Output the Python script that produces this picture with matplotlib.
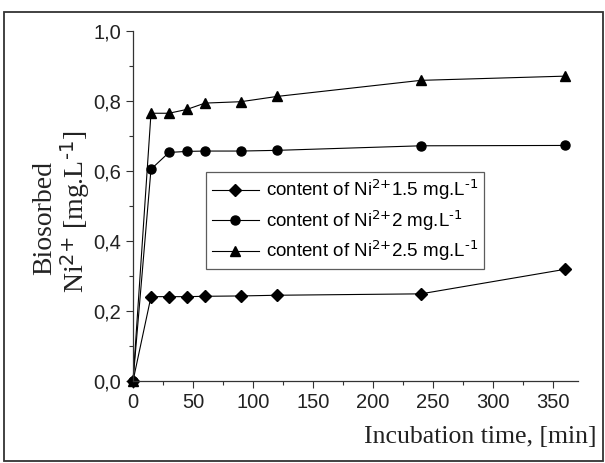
import numpy as np
import matplotlib
matplotlib.use('Agg')
from matplotlib import pyplot as plt
from matplotlib.patches import Rectangle
from matplotlib.ticker import MultipleLocator

plt.rcParams['font.family'] = 'Liberation Sans'
plt.rcParams['mathtext.default'] = 'regular'

# data
time_min = [0, 15, 30, 45, 60, 90, 120, 240, 360]
ni_15 = [0, 0.241, 0.241, 0.241, 0.242, 0.243, 0.245, 0.249, 0.319]
ni_20 = [0, 0.605, 0.653, 0.656, 0.657, 0.657, 0.659, 0.672, 0.673]
ni_25 = [0, 0.765, 0.765, 0.776, 0.794, 0.798, 0.813, 0.859, 0.871]
labels = [r'content of Ni$^{\text{2+}}$1.5 mg.L$^{\text{-1}}$',
          r'content of Ni$^{\text{2+}}$2 mg.L$^{\text{-1}}$',
          r'content of Ni$^{\text{2+}}$2.5 mg.L$^{\text{-1}}$']
xticks = [0, 50, 100, 150, 200, 250, 300, 350]
yticks = [0.0, 0.2, 0.4, 0.6, 0.8, 1.0]
ytick_labels = ['0,0', '0,2', '0,4', '0,6', '0,8', '1,0']

fig = plt.figure(figsize=(6.05, 4.63), dpi=100)
ax = fig.add_axes([133 / 605, 1 - 381 / 463, 445 / 605, 350 / 463])

ax.plot(time_min, ni_15, 'k-D', lw=0.8, ms=6.5, label=labels[0], clip_on=False)
ax.plot(time_min, ni_20, 'k-o', lw=0.8, ms=6.5, label=labels[1], clip_on=False)
ax.plot(time_min, ni_25, 'k-^', lw=0.8, ms=7.5, label=labels[2], clip_on=False)

ax.set_xlim(0, 371)
ax.set_ylim(0, 1.0)
ax.set_xticks(xticks)
ax.set_yticks(yticks)
ax.set_yticklabels(ytick_labels)
ax.xaxis.set_minor_locator(MultipleLocator(25))
ax.yaxis.set_minor_locator(MultipleLocator(0.1))
ax.tick_params(which='major', direction='out', length=5, width=0.8,
               labelsize=14.5, colors='#333333', labelcolor='#222222')
ax.tick_params(which='minor', direction='out', length=3, width=0.8, colors='#333333')
for s in ['top', 'right']:
    ax.spines[s].set_visible(False)
for s in ['left', 'bottom']:
    ax.spines[s].set_linewidth(0.9)
    ax.spines[s].set_color('#333333')

# y label, two lines in serif
fig.text(45 / 605, 1 - 218 / 463, 'Biosorbed', family='Liberation Serif',
         fontsize=20, rotation=90, ha='center', va='center', color='#222222')
fig.text(75 / 605, 1 - 212 / 463, r'Ni$^{\text{2+}}$ [mg.L$^{\text{-1}}$]',
         family='Liberation Serif', fontsize=20, rotation=90, ha='center',
         va='center', color='#222222')

fig.text(596 / 605, 1 - 443 / 463, 'Incubation time, [min]', family='Liberation Serif',
         fontsize=18.5, ha='right', va='baseline', color='#222222')

leg = ax.legend(loc='upper left', bbox_to_anchor=((206 - 133) / 445, (381 - 172) / 350),
                fontsize=13.5, frameon=True, fancybox=False, edgecolor='#333333',
                handlelength=2.5, borderpad=0.3, labelspacing=0.3, handletextpad=0.4,
                borderaxespad=0)
leg.get_frame().set_linewidth(0.9)

fig.patches.append(Rectangle((4 / 605, 1 - 461 / 463), 599 / 605, 449 / 463,
                             transform=fig.transFigure, fill=False,
                             edgecolor='#333333', linewidth=1.3))

fig.savefig('out.png', dpi=100)
